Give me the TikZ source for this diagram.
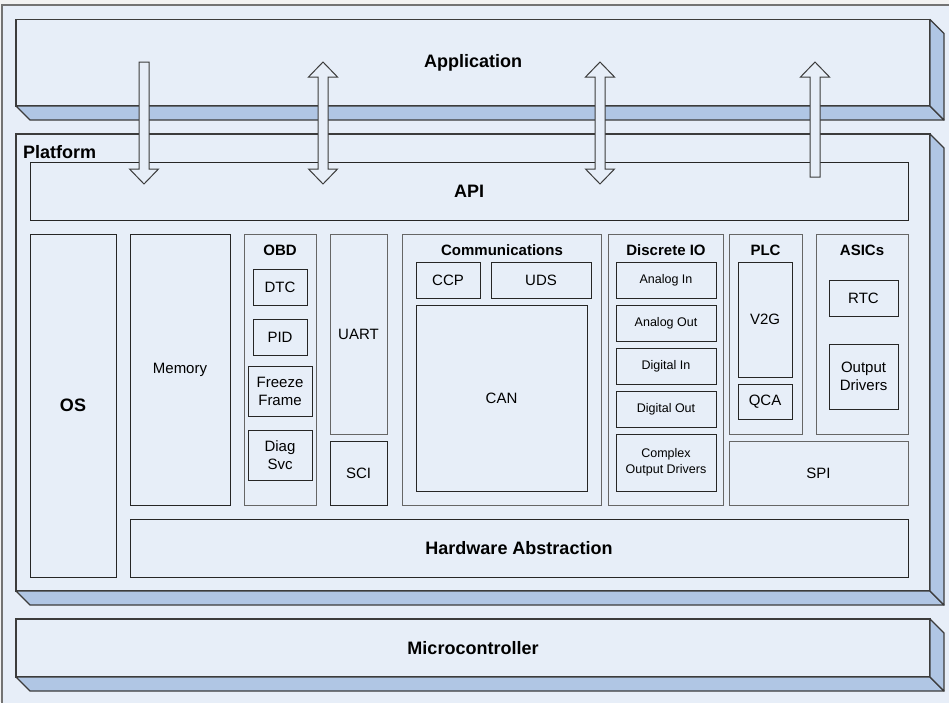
\documentclass[tikz,border=0pt]{standalone}
\usepackage{fontspec}
\setmainfont{Liberation Sans}
\definecolor{bgblue}{RGB}{231,238,248}
\definecolor{sideblue}{RGB}{176,198,228}
\definecolor{edge}{RGB}{60,60,60}
\tikzset{
  x=1pt, y=-1pt,
  blk/.style={draw=black!85, line width=0.8pt, fill=bgblue, inner sep=0pt, outer sep=0pt,
    align=center, font=\fontsize{15}{18}\selectfont},
  grp/.style={blk, draw=black!60},
  small/.style={blk, font=\fontsize{12.5}{16}\selectfont},
  heavy/.style={blk, font=\bfseries\fontsize{18}{22}\selectfont},
  front/.style={draw=edge, line width=1.2pt, fill=bgblue, inner sep=0pt, outer sep=0pt,
    font=\bfseries\fontsize{18}{22}\selectfont},
  face/.style={draw=edge, line width=1.2pt, fill=sideblue, line join=round},
  title/.style={anchor=base, inner sep=0pt, font=\bfseries\fontsize{15}{18}\selectfont},
  blockarrow/.style={draw=edge, line width=1pt, fill=bgblue, line join=miter},
}
% \rbox[style]{name}{x1}{y1}{x2}{y2}{text}
\newcommand\rbox[7][blk]{%
  \node[#1, minimum width={#5-#3}, minimum height={#6-#4}] (#2)
    at ({(#3+#5)/2},{(#4+#6)/2}) {#7};}
% extruded bottom and right faces of a layer
\newcommand\extrude[1]{%
  \draw[face] (#1.south west) -- ([shift={(14,14)}]#1.south west)
    -- ([shift={(14,14)}]#1.south east) -- (#1.south east) -- cycle;
  \draw[face] (#1.north east) -- ([shift={(14,14)}]#1.north east)
    -- ([shift={(14,14)}]#1.south east) -- (#1.south east) -- cycle;}
\begin{document}
\begin{tikzpicture}
\useasboundingbox (0,0) rectangle (949,702);
\fill[black!5] (0,0) rectangle (949,702);
\draw[fill=bgblue, draw=black!55, line width=1.5pt] (2,5) rectangle (960,712);

% layers
\rbox[front]{app}{16}{19.5}{930}{106}{Application}
\extrude{app}
\rbox[front]{plat}{16}{134}{930}{591}{}
\extrude{plat}
\rbox[front]{mcu}{16}{619}{930}{677}{Microcontroller}
\extrude{mcu}
\node[anchor=base west, inner sep=0pt, font=\bfseries\fontsize{18}{22}\selectfont]
  (platT) at (23,158) {Platform};

% platform contents
\rbox[heavy]{api}{30}{162}{908}{220}{API}
\rbox[heavy]{os}{30}{234}{116}{577}{OS}
\rbox{mem}{130}{234}{230}{505}{Memory}

\rbox[grp]{obd}{244}{234}{316}{505}{}
\node[title] (obdT) at (280,255) {OBD};
\rbox{dtc}{253}{269}{307}{305}{DTC}
\rbox{pid}{253}{319}{307}{355}{PID}
\rbox{ff}{248}{366}{312}{416}{Freeze\\Frame}
\rbox{diag}{248}{430}{312}{480}{Diag\\Svc}

\rbox[grp]{uart}{330}{234}{387}{434}{UART}
\rbox{sci}{330}{441}{387}{505}{SCI}

\rbox[grp]{comm}{402}{234}{601}{505}{}
\node[title] (commT) at (502,255) {Communications};
\rbox{ccp}{416}{262}{480}{298}{CCP}
\rbox{uds}{491}{262}{591}{298}{UDS}
\rbox{can}{416}{305}{587}{491}{CAN}

\rbox[grp]{dio}{608}{234}{723}{505}{}
\node[title] (dioT) at (666,255) {Discrete IO};
\rbox[small]{ain}{616}{262}{716}{298}{Analog In}
\rbox[small]{aout}{616}{305}{716}{341}{Analog Out}
\rbox[small]{din}{616}{348}{716}{384}{Digital In}
\rbox[small]{dout}{616}{391}{716}{427}{Digital Out}
\rbox[small]{cod}{616}{434}{716}{491}{Complex\\Output Drivers}

\rbox[grp]{plc}{729}{234}{802}{434}{}
\node[title] (plcT) at (765.5,255) {PLC};
\rbox{v2g}{738}{262}{792}{377}{V2G}
\rbox{qca}{738}{384}{792}{419}{QCA}

\rbox[grp]{asic}{816}{234}{908}{434}{}
\node[title] (asicT) at (862,255) {ASICs};
\rbox{rtc}{829}{280}{898}{316}{RTC}
\rbox{odrv}{829}{344}{898}{409}{Output\\Drivers}

\rbox[grp]{spi}{729}{441}{908}{505}{SPI}
\rbox[heavy]{hal}{130}{519}{908}{577}{Hardware Abstraction}

% block arrows between application and API
\draw[blockarrow] (139,62) -- (149,62) -- (149,169) -- (158.5,169) -- (144,184)
  -- (129.5,169) -- (139,169) -- cycle;
\foreach \cx in {323,600}{
  \draw[blockarrow] (\cx,62) -- ({\cx+14.5},77) -- ({\cx+5},77) -- ({\cx+5},169)
    -- ({\cx+14.5},169) -- (\cx,184) -- ({\cx-14.5},169) -- ({\cx-5},169)
    -- ({\cx-5},77) -- ({\cx-14.5},77) -- cycle;}
\draw[blockarrow] (815,62) -- (829.5,77) -- (820,77) -- (820,177) -- (810,177)
  -- (810,77) -- (800.5,77) -- cycle;
\end{tikzpicture}
\end{document}
